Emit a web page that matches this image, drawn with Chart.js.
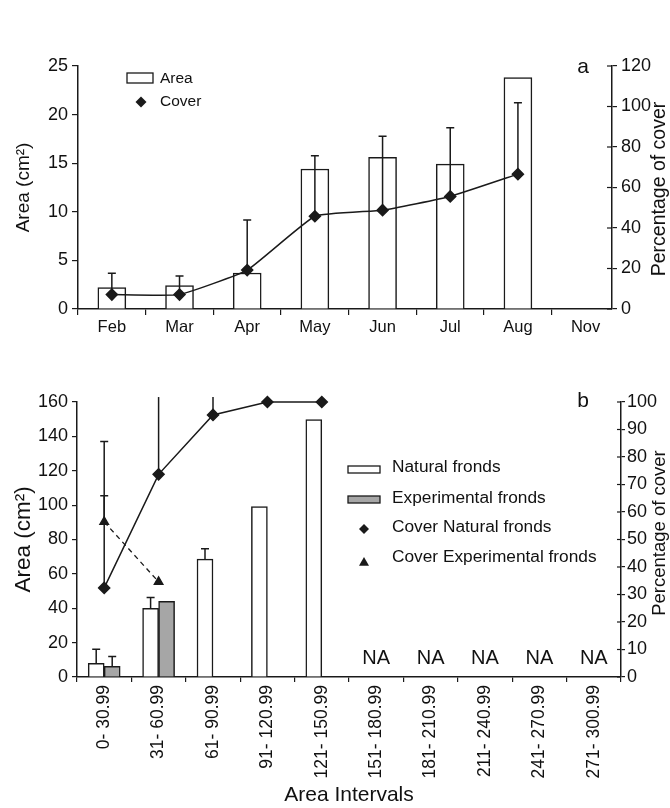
<!DOCTYPE html>
<html>
<head>
<meta charset="utf-8">
<script src="https://cdn.jsdelivr.net/npm/chart.js@4.4.1/dist/chart.umd.min.js"></script>
<style>
    body { margin: 0; background: #fff; }
    canvas { position: absolute; left: 0; }
    #chartMonth { top: 0; }
    #chartInterval { top: 340px; }
</style>
</head>
<body>
<canvas id="chartMonth" width="670" height="340"></canvas>
<canvas id="chartInterval" width="670" height="468"></canvas>
<script>
// panel a: monthly area and cover
var months = ['Feb', 'Mar', 'Apr', 'May', 'Jun', 'Jul', 'Aug', 'Nov'];
var monthArea = [2.2, 2.4, 3.7, 14.4, 15.6, 14.9, 23.8, null];
var monthCover = [7.1, 7.1, 19.2, 45.8, 48.8, 55.6, 66.6, null];
var monthCoverErr = [17.6, 16.3, 43.9, 75.7, 85.3, 89.5, 101.9, null];

// panel b: area intervals
var intervals = ['0- 30.99', '31- 60.99', '61- 90.99', '91- 120.99', '121- 150.99',
    '151- 180.99', '181- 210.99', '211- 240.99', '241- 270.99', '271- 300.99'];
var naturalArea = [8, 40, 68.6, 99.2, 149.7, null, null, null, null, null];
var naturalAreaErr = [16.1, 46.3, 74.6, null, null, null, null, null, null, null];
var experimentalArea = [6.2, 44, null, null, null, null, null, null, null, null];
var experimentalAreaErr = [12, null, null, null, null, null, null, null, null, null];
var naturalCover = [32.4, 73.7, 95.3, 100, 100, null, null, null, null, null];
var naturalCoverErr = [85.6, 101.8, 101.8, null, null, null, null, null, null, null];
var experimentalCover = [56.4, 34.6, null, null, null, null, null, null, null, null];
var experimentalCoverErr = [65.9, null, null, null, null, null, null, null, null, null];

var FONT = '"Liberation Sans", Arial, Helvetica, sans-serif';
var INK = '#1a1a1a';
Chart.defaults.font.family = FONT;
Chart.defaults.color = '#111';

function drawDiamond(ctx, x, y, r) {
    ctx.beginPath();
    ctx.moveTo(x, y - r);
    ctx.lineTo(x + r, y);
    ctx.lineTo(x, y + r);
    ctx.lineTo(x - r, y);
    ctx.closePath();
    ctx.fill();
}

function drawTriangle(ctx, x, y, r) {
    ctx.beginPath();
    ctx.moveTo(x, y - r);
    ctx.lineTo(x + r, y + r * 0.75);
    ctx.lineTo(x - r, y + r * 0.75);
    ctx.closePath();
    ctx.fill();
}

var decor = {
    id: 'decor',
    afterLayout: function (chart, args, opts) {
        // last category is cut short by the right axis
        if (opts.xRange) chart.scales.x._valueRange = opts.xRange;
    },
    afterDatasetsDraw: function (chart) {
        var ctx = chart.ctx;
        ctx.save();
        ctx.strokeStyle = INK;
        ctx.lineWidth = 1.5;
        chart.data.datasets.forEach(function (ds, di) {
            if (!ds.errorTop) return;
            var meta = chart.getDatasetMeta(di);
            var yScale = chart.scales[ds.yAxisID];
            ds.errorTop.forEach(function (top, i) {
                if (top == null || ds.data[i] == null) return;
                var el = meta.data[i];
                var y1 = yScale.getPixelForValue(top);
                ctx.beginPath();
                ctx.moveTo(el.x, el.y);
                ctx.lineTo(el.x, y1);
                if (top <= yScale.max) {
                    ctx.moveTo(el.x - 4, y1);
                    ctx.lineTo(el.x + 4, y1);
                }
                ctx.stroke();
            });
        });
        ctx.restore();
    },
    afterDraw: function (chart, args, opts) {
        var ctx = chart.ctx;
        var area = chart.chartArea;
        var right = chart.scales.y1;
        ctx.save();
        ctx.strokeStyle = INK;
        ctx.fillStyle = '#111';
        ctx.lineWidth = 1.2;

        // right axis tick marks cross the axis line
        right.ticks.forEach(function (t, i) {
            var y = right.getPixelForTick(i);
            ctx.beginPath();
            ctx.moveTo(right.left - opts.innerTick, y);
            ctx.lineTo(right.left, y);
            ctx.stroke();
        });

        // right axis title reads bottom to top
        ctx.save();
        ctx.translate(opts.rightTitleX, opts.rightTitleY);
        ctx.rotate(-Math.PI / 2);
        ctx.font = opts.rightTitleSize + 'px ' + FONT;
        ctx.textAlign = 'center';
        ctx.textBaseline = 'middle';
        ctx.fillText('Percentage of cover', 0, 0);
        ctx.restore();

        // panel letter
        ctx.font = '21px ' + FONT;
        ctx.textAlign = 'center';
        ctx.textBaseline = 'middle';
        ctx.fillText(opts.letter, opts.letterX, opts.letterY);

        // NA labels where there is no data
        if (opts.naFrom) {
            var xs = chart.scales.x;
            ctx.font = '20px ' + FONT;
            opts.naFrom.forEach(function (v, i) {
                if (v == null) ctx.fillText('NA', xs.getPixelForValue(i), area.bottom - 19);
            });
        }

        // legend
        ctx.font = opts.legendSize + 'px ' + FONT;
        ctx.textAlign = 'left';
        opts.legend.forEach(function (item) {
            ctx.fillStyle = INK;
            if (item.kind === 'box') {
                ctx.fillStyle = item.fill;
                ctx.fillRect(item.x, item.y, item.w, item.h);
                ctx.lineWidth = 1.3;
                ctx.strokeRect(item.x, item.y, item.w, item.h);
                ctx.fillStyle = INK;
            } else if (item.kind === 'diamond') {
                drawDiamond(ctx, item.x, item.y, item.r);
            } else {
                drawTriangle(ctx, item.x, item.y, item.r);
            }
            ctx.fillStyle = '#111';
            ctx.fillText(item.text, opts.legendTextX, item.ty);
        });
        ctx.restore();
    }
};

function axisGrid(len) {
    return { drawOnChartArea: false, drawTicks: true, tickLength: len, color: INK, lineWidth: 1.2 };
}
var axisBorder = { color: INK, width: 1.5 };

new Chart(document.getElementById('chartMonth'), {
    type: 'bar',
    data: {
        labels: months,
        datasets: [{
            type: 'line',
            label: 'Cover',
            data: monthCover,
            errorTop: monthCoverErr,
            yAxisID: 'y1',
            borderColor: INK,
            borderWidth: 1.5,
            tension: 0.12,
            pointStyle: 'rectRot',
            pointRadius: 5.5,
            pointBackgroundColor: INK,
            pointBorderColor: INK,
            clip: false,
            order: 0
        }, {
            type: 'bar',
            label: 'Area',
            data: monthArea,
            yAxisID: 'y',
            backgroundColor: '#fff',
            borderColor: INK,
            borderWidth: 1.5,
            barThickness: 28,
            order: 1
        }]
    },
    plugins: [decor],
    options: {
        responsive: false,
        animation: false,
        devicePixelRatio: 1,
        layout: { padding: { top: 66, left: 0, right: 0, bottom: 0 } },
        scales: {
            x: {
                offset: true,
                grid: Object.assign(axisGrid(6), { offset: true }),
                border: axisBorder,
                ticks: { font: { size: 16.5 }, padding: 3, maxRotation: 0, autoSkip: false },
                afterFit: function (s) { s.height = 31; }
            },
            y: {
                position: 'left',
                min: 0,
                max: 25,
                ticks: { stepSize: 5, font: { size: 18 }, padding: 4 },
                grid: axisGrid(6),
                border: axisBorder,
                title: { display: true, text: 'Area (cm²)', font: { size: 19 }, padding: { top: 12, bottom: 0 } },
                afterFit: function (s) { s.width = 78; }
            },
            y1: {
                position: 'right',
                min: 0,
                max: 120,
                ticks: { stepSize: 20, font: { size: 18 }, padding: 4 },
                grid: axisGrid(5),
                border: axisBorder,
                afterFit: function (s) { s.width = 58; }
            }
        },
        plugins: {
            legend: { display: false },
            tooltip: { enabled: false },
            decor: {
                xRange: 7.89,
                innerTick: 5,
                rightTitleX: 660,
                rightTitleY: 189,
                rightTitleSize: 19.5,
                letter: 'a',
                letterX: 583,
                letterY: 67,
                legendSize: 15.5,
                legendTextX: 160,
                legend: [
                    { kind: 'box', fill: '#fff', x: 127, y: 73, w: 26, h: 10, text: 'Area', ty: 79 },
                    { kind: 'diamond', x: 141, y: 102, r: 5.5, text: 'Cover', ty: 102 }
                ]
            }
        }
    }
});

new Chart(document.getElementById('chartInterval'), {
    type: 'bar',
    data: {
        labels: intervals,
        datasets: [{
            type: 'line',
            label: 'Cover Natural fronds',
            data: naturalCover,
            errorTop: naturalCoverErr,
            yAxisID: 'y1',
            borderColor: INK,
            borderWidth: 1.5,
            tension: 0,
            pointStyle: 'rectRot',
            pointRadius: 5.5,
            pointBackgroundColor: INK,
            pointBorderColor: INK,
            clip: false,
            order: 0
        }, {
            type: 'line',
            label: 'Cover Experimental fronds',
            data: experimentalCover,
            errorTop: experimentalCoverErr,
            yAxisID: 'y1',
            borderColor: INK,
            borderWidth: 1.3,
            borderDash: [5, 4],
            tension: 0,
            pointStyle: 'triangle',
            pointRadius: 5,
            pointBackgroundColor: INK,
            pointBorderColor: INK,
            clip: false,
            order: 0
        }, {
            type: 'bar',
            label: 'Natural fronds',
            data: naturalArea,
            errorTop: naturalAreaErr,
            yAxisID: 'y',
            backgroundColor: '#fff',
            borderColor: INK,
            borderWidth: 1.5,
            barThickness: 16,
            order: 1
        }, {
            type: 'bar',
            label: 'Experimental fronds',
            data: experimentalArea,
            errorTop: experimentalAreaErr,
            yAxisID: 'y',
            backgroundColor: '#a6a6a6',
            borderColor: INK,
            borderWidth: 1.5,
            barThickness: 16,
            order: 1
        }]
    },
    plugins: [decor],
    options: {
        responsive: false,
        animation: false,
        devicePixelRatio: 1,
        layout: { padding: { top: 62, left: 0, right: 0, bottom: 0 } },
        scales: {
            x: {
                offset: true,
                grid: Object.assign(axisGrid(5), { offset: true }),
                border: axisBorder,
                ticks: { font: { size: 17.5 }, padding: 3, minRotation: 90, maxRotation: 90, autoSkip: false },
                title: { display: true, text: 'Area Intervals', font: { size: 21 }, padding: { top: 0, bottom: 0 } },
                afterFit: function (s) { s.height = 131; }
            },
            y: {
                position: 'left',
                min: 0,
                max: 160,
                ticks: { stepSize: 20, font: { size: 18 }, padding: 4 },
                grid: axisGrid(5),
                border: axisBorder,
                title: { display: true, text: 'Area (cm²)', font: { size: 22.5 }, padding: { top: 10, bottom: 0 } },
                afterFit: function (s) { s.width = 77; }
            },
            y1: {
                position: 'right',
                min: 0,
                max: 100,
                ticks: { stepSize: 10, font: { size: 18 }, padding: 2 },
                grid: axisGrid(4),
                border: axisBorder,
                afterFit: function (s) { s.width = 49; }
            }
        },
        plugins: {
            legend: { display: false },
            tooltip: { enabled: false },
            decor: {
                innerTick: 4,
                rightTitleX: 660,
                rightTitleY: 193,
                rightTitleSize: 18.5,
                letter: 'b',
                letterX: 583,
                letterY: 61,
                naFrom: naturalArea,
                legendSize: 17.3,
                legendTextX: 392,
                legend: [
                    { kind: 'box', fill: '#fff', x: 348, y: 126, w: 32, h: 7, text: 'Natural fronds', ty: 127 },
                    { kind: 'box', fill: '#a6a6a6', x: 348, y: 156, w: 32, h: 7, text: 'Experimental fronds', ty: 158 },
                    { kind: 'diamond', x: 364, y: 189, r: 5, text: 'Cover Natural fronds', ty: 187 },
                    { kind: 'triangle', x: 364, y: 222, r: 5, text: 'Cover Experimental fronds', ty: 217 }
                ]
            }
        }
    }
});
</script>
</body>
</html>
